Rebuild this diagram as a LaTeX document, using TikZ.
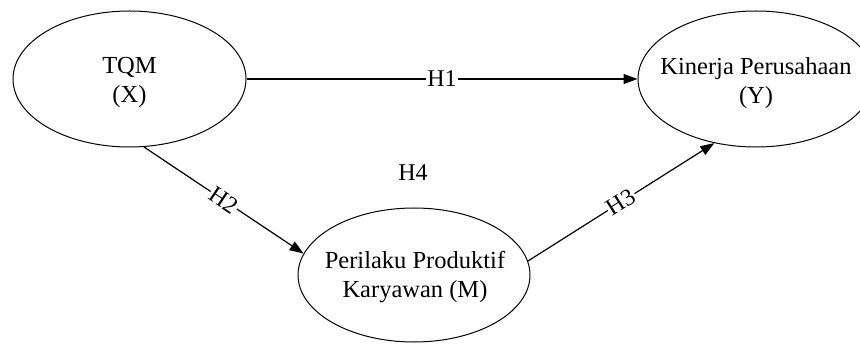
\documentclass[tikz,border=0pt]{standalone}
\usepackage{fontspec}
\setmainfont{Liberation Serif}
\usetikzlibrary{shapes.geometric,arrows.meta}
\begin{document}
\begin{tikzpicture}[x=1pt,y=1pt,
  ell/.style={draw, ellipse, line width=1pt, minimum width=233pt, minimum height=136pt, inner sep=0pt},
  lbl/.style={font=\fontsize{24.5}{29}\selectfont, align=center, inner sep=0pt},
  conn/.style={line width=1.2pt, -{Triangle[length=14pt,width=10pt]}},
  hyp/.style={font=\fontsize{24}{28}\selectfont, fill=white, inner sep=1pt}]
\useasboundingbox (0,0) rectangle (860,343);
\clip (0,0) rectangle (860,343);
\node[ell] (tqm) at (129.5,264) {};
\node[lbl] (tqmt) at (129.5,261) {TQM\\(X)};
\node[ell, minimum width=236pt] (kin) at (756,264) {};
\node[lbl] (kint) at (756,260) {Kinerja Perusahaan\\(Y)};
\node[ell, minimum width=232pt, minimum height=134pt] (per) at (414,68) {};
\node[lbl] (pert) at (415,66) {Perilaku Produktif\\Karyawan (M)};
\node[font=\fontsize{24}{28}\selectfont, inner sep=0pt] (h4) at (413,170) {H4};
\draw[conn] (tqm.east) -- node[hyp] (h1) {H1} (kin.west);
\draw[conn] (tqm.-78.8) -- node[hyp, sloped] (h2) {H2} (per.169.8);
\draw[conn] (per.7.1) -- node[hyp, sloped] (h3) {H3} (kin.237);
\end{tikzpicture}
\end{document}
